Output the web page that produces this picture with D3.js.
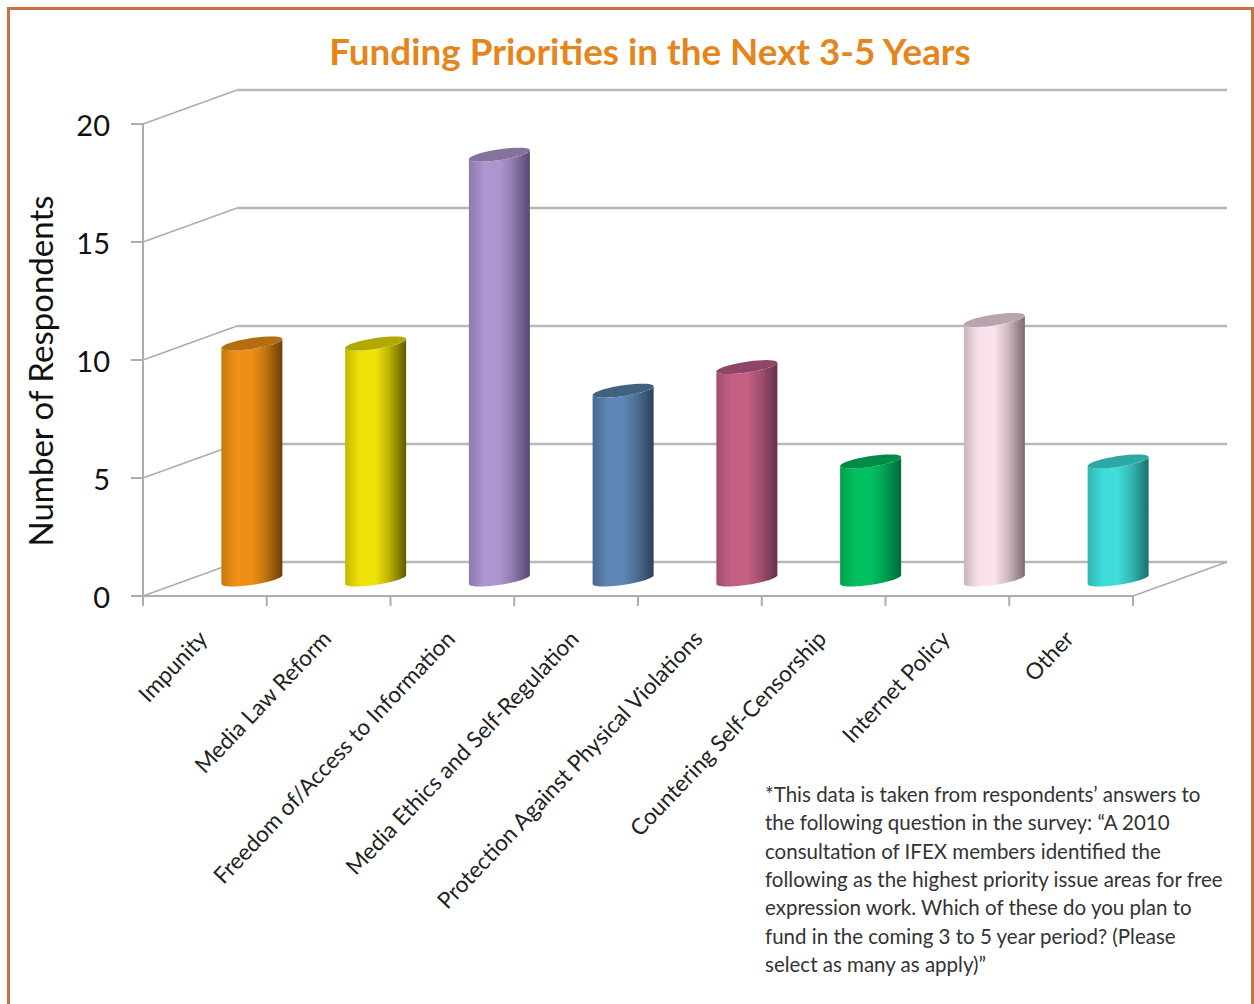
<!DOCTYPE html>
<html>
<head>
<meta charset="utf-8">
<script src="https://cdnjs.cloudflare.com/ajax/libs/d3/7.8.5/d3.min.js"></script>
<style>
html, body { margin: 0; padding: 0; background: #fff; }
svg { display: block; }
text { font-family: Lato, "Open Sans", sans-serif; }
</style>
</head>
<body>
<svg id="chart" width="1254" height="1004"></svg>
<script>
// Survey counts per funding issue area
const categories = ["Impunity", "Media Law Reform", "Freedom of/Access to Information",
  "Media Ethics and Self-Regulation", "Protection Against Physical Violations",
  "Countering Self-Censorship", "Internet Policy", "Other"];
const respondents = [10, 10, 18, 8, 9, 5, 11, 5];
const valueTicks = [0, 5, 10, 15, 20];

// side colours of each cylinder: left edge, highlight, right edge, cap
const barEdgeLeft = ["#c9780f", "#c7b800", "#8f78ac", "#48688f", "#a04c70", "#00a04c", "#c9b5bf", "#2fb5b2"];
const barLight = ["#ee9016", "#efe208", "#ae95d0", "#5f87b5", "#c56085", "#00c060", "#fae2ec", "#3fdcd9"];
const barEdgeRight = ["#6a3f06", "#5f5900", "#574770", "#2c4058", "#65304a", "#00693a", "#7a6a72", "#1c6e6c"];
const barCap = ["#b46e10", "#b3a800", "#85729f", "#41627f", "#8f4566", "#008c47", "#b8a4ae", "#2da8a6"];

const footnoteLines = [
  "*This data is taken from respondents’ answers to",
  "the following question in the survey: “A 2010",
  "consultation of IFEX members identified the",
  "following as the highest priority issue areas for free",
  "expression work.  Which of these do you plan to",
  "fund in the coming 3 to 5 year period? (Please",
  "select as many as apply)”"
];

const svg = d3.select("#chart");
const defs = svg.append("defs");

// plot frame: front plane plus the offset of the receding wall
const frontLeft = 143, frontRight = 1133, floorY = 596, topY = 124;
const depthX = 94, depthY = -34;
const gridColor = "#b8b8b8";
const axisColor = "#adadad";

const x = d3.scaleBand().domain(categories).range([frontLeft, frontRight]);
const y = d3.scaleLinear().domain([0, 20]).range([floorY, topY]);

// outer frame, open at the bottom
svg.append("path")
  .attr("d", "M8.5,1004V8.5H1252.5V1004")
  .attr("fill", "none").attr("stroke", "#c8703f").attr("stroke-width", 3);

svg.append("text")
  .attr("x", 650).attr("y", 65).attr("text-anchor", "middle")
  .attr("font-size", 36.8).attr("font-weight", 700).attr("fill", "#e5861c")
  .text("Funding Priorities in the Next 3-5 Years");

// back wall gridlines with their slanted returns to the axis
const grid = svg.append("g").attr("fill", "none");
valueTicks.forEach(v => {
  grid.append("path")
    .attr("d", d3.line()([[frontLeft + depthX, y(v) + depthY], [frontRight + depthX, y(v) + depthY]]))
    .attr("stroke", gridColor).attr("stroke-width", 2.4);
  grid.append("path")
    .attr("d", d3.line()([[frontLeft, y(v)], [frontLeft + depthX, y(v) + depthY]]))
    .attr("stroke", axisColor).attr("stroke-width", 1.6);
});
// right edge of the floor
grid.append("path")
  .attr("d", d3.line()([[frontRight, floorY], [frontRight + depthX, floorY + depthY]]))
  .attr("stroke", axisColor).attr("stroke-width", 1.6);

// cylinder footprint: an ellipse skewed along the depth direction
const bw = 61, vy = 7, vx = vy * depthX / -depthY, ux = Math.sqrt((bw / 2) ** 2 - vx ** 2);
const extremeT = Math.atan2(vx, ux);
const ellipsePoint = (cx, cy, t) => [cx + ux * Math.cos(t) + vx * Math.sin(t), cy - vy * Math.sin(t)];
const arcPoints = (cx, cy, t0, t1) => d3.range(0, 41).map(i => ellipsePoint(cx, cy, t0 + (t1 - t0) * i / 40));
const outline = d3.line();

const bars = svg.append("g").selectAll("g").data(categories).join("g");
bars.each(function (name, i) {
  const g = d3.select(this);
  const cx = x(name) + x.bandwidth() / 2 + depthX / 2;
  const base = floorY + depthY / 2 + 0.5;
  const top = y(respondents[i]) + depthY / 2 + 0.5;
  const grad = defs.append("linearGradient").attr("id", "side" + i);
  [[0, barEdgeLeft[i]], [0.25, barLight[i]], [0.5, barLight[i]], [0.72, d3.interpolateRgb(barLight[i], barEdgeRight[i])(0.35)], [1, barEdgeRight[i]]]
    .forEach(([o, c]) => grad.append("stop").attr("offset", o).attr("stop-color", c));
  // front half of the base ellipse, then back along the front half of the cap
  const lower = arcPoints(cx, base, Math.PI + extremeT, 2 * Math.PI + extremeT);
  const upper = arcPoints(cx, top, 2 * Math.PI + extremeT, Math.PI + extremeT);
  g.append("path").attr("d", outline(lower.concat(upper)) + "Z").attr("fill", `url(#side${i})`);
  g.append("path").attr("d", outline(arcPoints(cx, top, 0, 2 * Math.PI)) + "Z").attr("fill", barCap[i]);
});

// value axis
const yAxis = svg.append("g").attr("transform", `translate(${frontLeft},0)`)
  .call(d3.axisLeft(y).tickValues(valueTicks).tickSize(12).tickPadding(21).offset(0));
yAxis.selectAll("line, path").attr("stroke", axisColor).attr("stroke-width", 2);
yAxis.select(".domain").attr("d", `M0,${topY}V${floorY}`);
yAxis.selectAll("text").attr("font-size", 29).attr("font-family", "Lato").attr("fill", "#111").attr("dy", "0.4em");

// category axis: ticks fall on band edges, labels are placed separately
const edges = d3.range(categories.length + 1).map(i => frontLeft + i * x.step());
const edgeScale = d3.scaleIdentity().domain([frontLeft, frontRight]);
const xAxis = svg.append("g").attr("transform", `translate(0,${floorY})`)
  .call(d3.axisBottom(edgeScale).tickValues(edges).tickSize(10).tickFormat("").offset(0));
xAxis.selectAll("line, path").attr("stroke", axisColor).attr("stroke-width", 2);
xAxis.select(".domain").attr("d", `M${frontLeft},0H${frontRight}`);

svg.append("g").selectAll("text").data(categories).join("text")
  .attr("transform", d => `translate(${x(d) + x.bandwidth() / 2 + 4},${floorY + 44}) rotate(-46.5)`)
  .attr("text-anchor", "end").attr("font-size", 22.6).attr("fill", "#222")
  .text(d => d);

svg.append("text")
  .attr("transform", "translate(53,371) rotate(-90)")
  .attr("text-anchor", "middle").attr("font-size", 33).attr("fill", "#111")
  .text("Number of Respondents");

svg.append("g").selectAll("text").data(footnoteLines).join("text")
  .attr("x", 765).attr("y", (d, i) => 802 + i * 28.3)
  .attr("font-size", 20.5).attr("fill", "#333")
  .text(d => d);
</script>
</body>
</html>
